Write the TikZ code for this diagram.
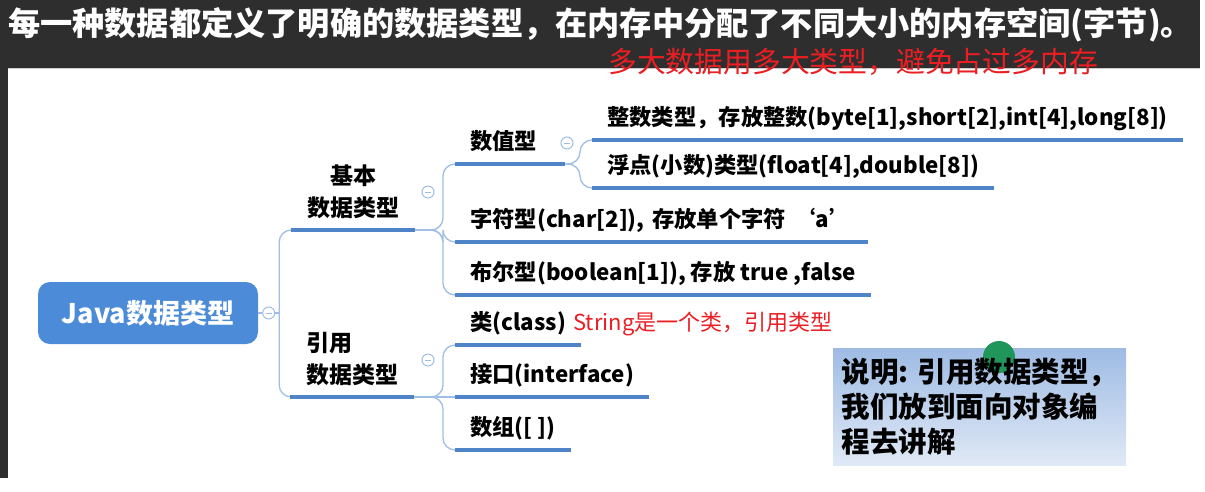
\documentclass[tikz,border=0pt]{standalone}
\usepackage{fontspec}
\setmainfont{Noto Sans CJK SC}
\usetikzlibrary{positioning}
\definecolor{hdrgray}{RGB}{46,46,46}
\definecolor{mapblue}{RGB}{79,132,200}
\definecolor{linkblue}{RGB}{160,190,228}
\definecolor{rootblue}{RGB}{76,139,215}
\definecolor{notetop}{RGB}{158,187,228}
\definecolor{notebot}{RGB}{224,233,246}
\definecolor{hintred}{RGB}{235,30,35}
\definecolor{cursorgreen}{RGB}{32,150,90}

\begin{document}
\begin{tikzpicture}[x=1pt,y=-1pt,
  uline/.style={mapblue,line width=4.5pt},
  conn/.style={linkblue,line width=1.3pt,rounded corners=12pt},
  toggle/.style={circle,draw=linkblue,fill=white,line width=1pt,minimum size=12pt,inner sep=0pt,
    path picture={\draw[linkblue,line width=1pt] ([xshift=-3pt]path picture bounding box.center) -- ([xshift=3pt]path picture bounding box.center);}},
  branch/.style={font=\fontsize{23}{32}\selectfont\bfseries,inner xsep=16pt,inner ysep=0pt,text depth=13pt},
  leaf/.style={anchor=south west,font=\fontsize{22.3}{26}\selectfont\bfseries,inner xsep=15pt,inner ysep=0pt,text depth=14pt}]
  \useasboundingbox (0,0) rectangle (1205,491);
  % slide header and left edge
  \fill[hdrgray] (0,0) rectangle (1200,68);
  \fill[hdrgray] (0,68) rectangle (8,478);
  \draw[gray!40,line width=1pt] (8,68) -- (1200,68);
  \node[anchor=west,text=white,font=\fontsize{32.2}{36}\selectfont\bfseries,inner sep=0pt] (title) at (8,25)
    {每一种数据都定义了明确的数据类型，在内存中分配了不同大小的内存空间(字节)。};
  \node[anchor=west,text=hintred,font=\fontsize{28.8}{32}\selectfont,inner sep=0pt] (sub) at (608,62)
    {多大数据用多大类型，避免占过多内存};

  % root
  \node[fill=rootblue,rounded corners=12pt,minimum width=220pt,minimum height=62pt,text=white,
    font=\fontsize{27}{30}\selectfont\bfseries] (root) at (148,313) {Java数据类型};
  \node[toggle,right=4pt of root] (t0) {};

  % second level
  \node[branch,anchor=south,align=center] (basic) at (353,230) {基本\\数据类型};
  \node[branch,anchor=south west,align=left] (ref) at (290,397) {引用\\数据类型};

  % leaves
  \node[leaf,text width=80pt,align=left] (num) at (455,164) {数值型};
  \node[leaf] (int) at (592,140) {整数类型，存放整数(byte[1],short[2],int[4],long[8])};
  \node[leaf] (flt) at (592,188) {浮点(小数)类型(float[4],double[8])};
  \node[leaf,text width=383pt,align=left] (chr) at (455,242) {字符型(char[2]), 存放单个字符 ‘a’};
  \node[leaf] (bool) at (455,295) {布尔型(boolean[1]), 存放 true ,false};
  \node[leaf] (cls) at (455,345) {类(class)};
  \node[anchor=base west,text=hintred,font=\fontsize{22}{26}\selectfont,inner sep=0pt] (clsnote)
    at ([xshift=-8pt]cls.base east) {String是一个类，引用类型};
  \node[leaf] (intf) at (455,397) {接口(interface)};
  \node[leaf] (arr) at (455,450) {数组([ ])};

  % connectors
  \draw[conn] (root.east) -- (t0.west);
  \draw[conn] (t0.east) -- ++(4,0) coordinate (f0);
  \draw[conn] (f0) |- (basic.south west);
  \draw[conn] (f0) |- (ref.south west);
  \foreach \n in {num,chr,bool}
    \draw[conn] (basic.south east) -| ([xshift=-12pt]\n.south west) -- (\n.south west);
  \foreach \n in {int,flt}
    \draw[conn] (num.south east) -| ([xshift=-12pt]\n.south west) -- (\n.south west);
  \foreach \n in {cls,arr}
    \draw[conn] (ref.south east) -| ([xshift=-12pt]\n.south west) -- (\n.south west);
  \draw[conn] (ref.south east) -- (intf.south west);
  \foreach \n in {basic,ref,num,int,flt,chr,bool,cls,intf,arr}
    \draw[uline] (\n.south west) -- (\n.south east);

  % collapse buttons
  \node[toggle] (t1) at (428,192) {};
  \node[toggle] (t2) at (428,360) {};
  \node[toggle] (t3) at (567,143) {};

  % note box
  \node[minimum width=293pt,minimum height=117pt,top color=notetop,bottom color=notebot] (note) at (979.5,406.5) {};
  \fill[cursorgreen] (999,357) circle (16pt);
  \node[align=left,font=\fontsize{28.5}{35}\selectfont\bfseries,inner sep=0pt] (notetxt) at (note.center)
    {说明: 引用数据类型，\\我们放到面向对象编\\程去讲解};
\end{tikzpicture}
\end{document}
